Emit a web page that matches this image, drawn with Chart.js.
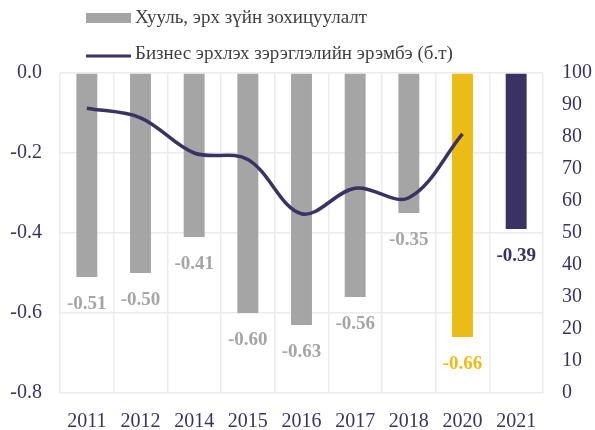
<!DOCTYPE html>
<html lang="en">
<head>
    <meta charset="UTF-8">
    <title>Хууль, эрх зүйн зохицуулалт</title>
    <script src="https://cdn.jsdelivr.net/npm/chart.js"></script>
    <style>
        body {
            margin: 0;
            padding: 0;
            background-color: #fff;
        }

        .chart-container {
            width: 595px;
            height: 430px;
        }
    </style>
</head>
<body>
    <div class="chart-container">
        <canvas id="chart"></canvas>
    </div>

    <script>
        const years = ["2011", "2012", "2014", "2015", "2016", "2017", "2018", "2020", "2021"];
        const regulation = [-0.51, -0.50, -0.41, -0.60, -0.63, -0.56, -0.35, -0.66, -0.39];
        const ranking = [89, 86, 75, 73, 56, 64, 61, 81, null];
        const leftTicks = [0, -0.2, -0.4, -0.6, -0.8];

        const barLabel = "Хууль, эрх зүйн зохицуулалт";
        const lineLabel = "Бизнес эрхлэх зэрэглэлийн эрэмбэ (б.т)";

        const grey = "#a5a5a5";
        const yellow = "#ecbc16";
        const navy = "#3a3262";
        const barColors = years.map(function (y) {
            if (y === "2020") return yellow;
            if (y === "2021") return navy;
            return grey;
        });

        const serif = "Liberation Serif, serif";

        // legend drawn by hand, two rows aligned on the left
        const legendPlugin = {
            id: "legendRows",
            afterDraw(chart) {
                const ctx = chart.ctx;
                ctx.save();
                ctx.font = "19px " + serif;
                ctx.textBaseline = "middle";
                ctx.textAlign = "left";

                ctx.fillStyle = grey;
                ctx.fillRect(86, 13, 45, 10);
                ctx.fillStyle = "#404040";
                ctx.fillText(barLabel, 135, 18);

                ctx.strokeStyle = navy;
                ctx.lineWidth = 3;
                ctx.beginPath();
                ctx.moveTo(86, 56);
                ctx.lineTo(131, 56);
                ctx.stroke();
                ctx.fillText(lineLabel, 135, 54);
                ctx.restore();
            }
        };

        // values under each bar
        const labelPlugin = {
            id: "barValues",
            afterDatasetsDraw(chart) {
                const ctx = chart.ctx;
                const meta = chart.getDatasetMeta(1);
                ctx.save();
                ctx.font = "bold 19px " + serif;
                ctx.textAlign = "center";
                ctx.textBaseline = "middle";
                meta.data.forEach(function (bar, i) {
                    ctx.fillStyle = barColors[i];
                    ctx.fillText(regulation[i].toFixed(2), bar.x, bar.y + 27);
                });
                ctx.restore();
            }
        };

        new Chart(document.getElementById("chart"), {
            data: {
                labels: years,
                datasets: [
                    {
                        type: "line",
                        label: lineLabel,
                        data: ranking,
                        yAxisID: "y1",
                        borderColor: navy,
                        borderWidth: 3.5,
                        pointRadius: 0,
                        tension: 0.35,
                        fill: false,
                        order: 0
                    },
                    {
                        type: "bar",
                        label: barLabel,
                        data: regulation,
                        yAxisID: "y",
                        backgroundColor: barColors,
                        barPercentage: 0.39,
                        categoryPercentage: 1,
                        order: 1
                    }
                ]
            },
            options: {
                responsive: true,
                maintainAspectRatio: false,
                animation: false,
                layout: {
                    padding: { top: 73 }
                },
                plugins: {
                    legend: { display: false },
                    tooltip: { enabled: false }
                },
                scales: {
                    x: {
                        grid: {
                            color: "#ebebeb",
                            lineWidth: 1.5,
                            drawTicks: false
                        },
                        border: { display: false },
                        ticks: {
                            color: navy,
                            font: { family: serif, size: 20 },
                            padding: 17
                        },
                        afterFit(axis) { axis.height = 37; }
                    },
                    y: {
                        position: "left",
                        min: -0.8,
                        max: 0,
                        grid: {
                            color: "#ebebeb",
                            lineWidth: 1.5,
                            drawTicks: false
                        },
                        border: { display: false },
                        afterBuildTicks(axis) {
                            axis.ticks = leftTicks.map(function (v) { return { value: v }; });
                        },
                        ticks: {
                            color: navy,
                            font: { family: serif, size: 20 },
                            padding: 18,
                            callback: function (v) { return Number(v).toFixed(1); }
                        },
                        afterFit(axis) { axis.width = 60; }
                    },
                    y1: {
                        position: "right",
                        min: 0,
                        max: 100,
                        grid: { display: false, drawTicks: false },
                        border: { display: false },
                        ticks: {
                            stepSize: 10,
                            color: navy,
                            font: { family: serif, size: 20 },
                            padding: 19
                        },
                        afterFit(axis) { axis.width = 52; }
                    }
                }
            },
            plugins: [legendPlugin, labelPlugin]
        });
    </script>
</body>
</html>
